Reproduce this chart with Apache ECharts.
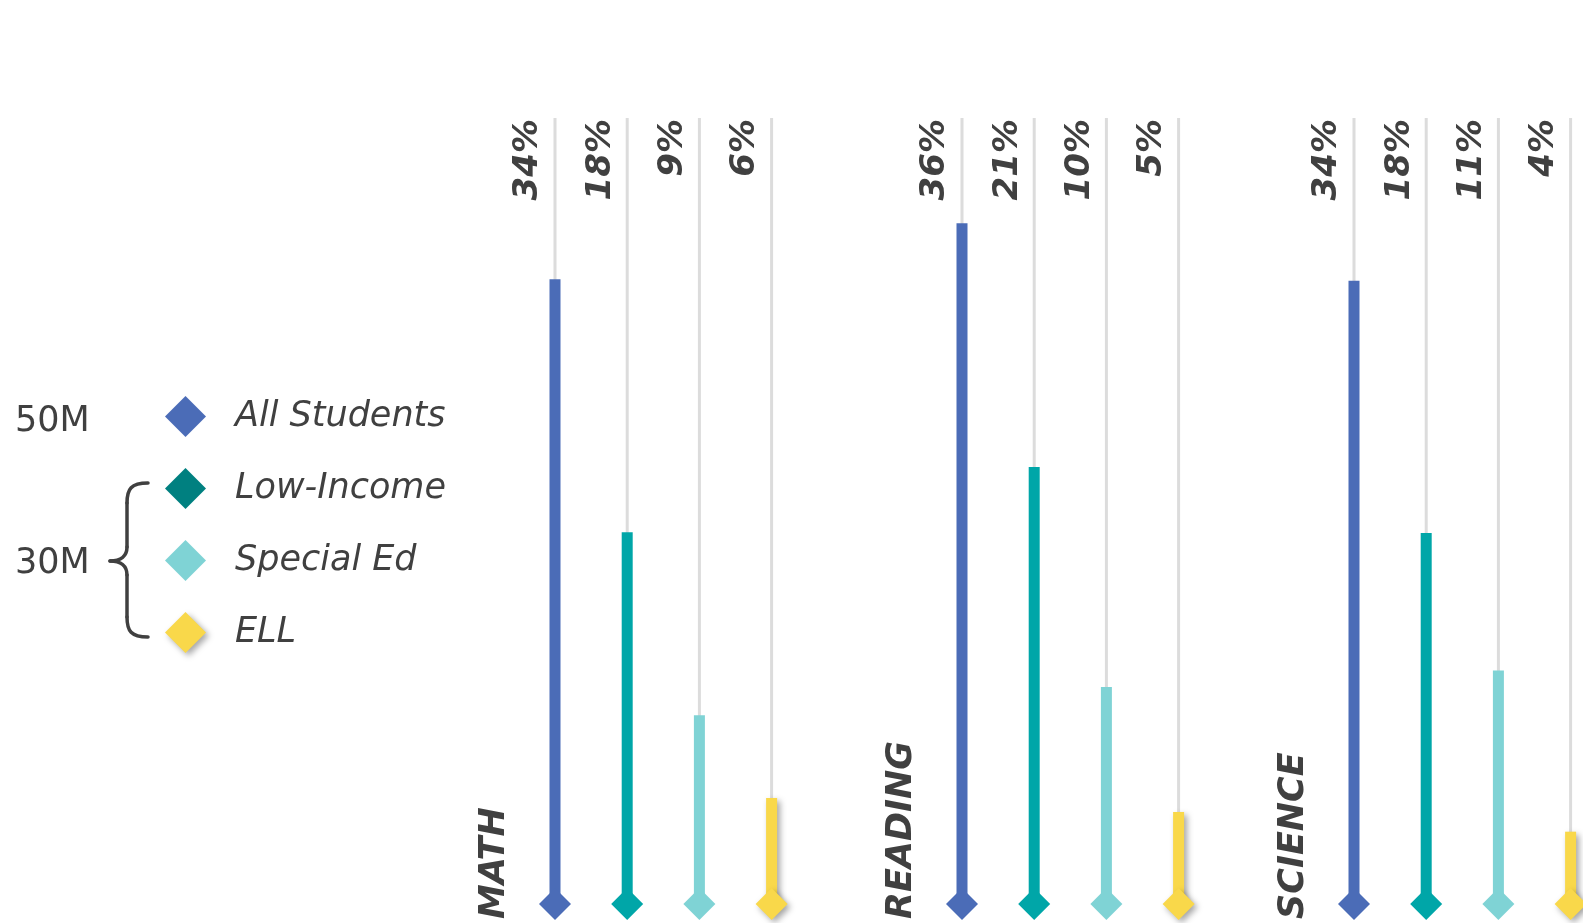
<!DOCTYPE html>
<html>
<head>
<meta charset="utf-8">
<script src="https://cdn.jsdelivr.net/npm/echarts@6/dist/echarts.min.js"></script>
<style>
html,body{margin:0;padding:0;background:#fff;overflow:hidden;}
#chart{width:1620px;height:923px;}
</style>
</head>
<body>
<div id="chart"></div>
<script>
// ---- data ----
const subjects = ['MATH', 'READING', 'SCIENCE'];
const studentGroups = ['All Students', 'Low-Income', 'Special Ed', 'ELL'];
const mathBars = [79.5, 47.3, 24.0, 13.5];
const readingBars = [86.6, 55.6, 27.6, 11.7];
const scienceBars = [79.3, 47.2, 29.7, 9.2];
const mathPct = ['34%', '18%', '9%', '6%'];
const readingPct = ['36%', '21%', '10%', '5%'];
const sciencePct = ['34%', '18%', '11%', '4%'];
const trackMax = 100;
const populationLabels = ['50M', '30M'];

// ---- styling / layout ----
const barSets = [mathBars, readingBars, scienceBars];
const pctSets = [mathPct, readingPct, sciencePct];
const barColors = ['#4B6CB7', '#00A6A8', '#7FD3D5', '#F9D84A'];
const legendColors = ['#4B6CB7', '#008080', '#7FD3D5', '#F9D84A'];
const textColor = '#404040';
const FONT = '"DejaVu Sans", Verdana, sans-serif';
const band = 72.2;
const gridLefts = [518.9, 925.9, 1317.9];
const gridTop = 118, gridBottom = 19;
const shadow = {shadowColor: 'rgba(0,0,0,0.35)', shadowBlur: 6, shadowOffsetX: 3, shadowOffsetY: 3};

const grids = [], xAxes = [], yAxes = [], series = [];
subjects.forEach((s, g) => {
  grids.push({left: gridLefts[g], width: band * studentGroups.length, top: gridTop, bottom: gridBottom,
    containLabel: false, outerBoundsMode: 'none'});
  xAxes.push({type: 'category', gridIndex: g, data: studentGroups, show: false});
  xAxes.push({type: 'category', gridIndex: g, data: studentGroups, show: false});
  yAxes.push({type: 'value', gridIndex: g, min: 0, max: trackMax, show: false});
  // gray tracks with percentage labels
  series.push({
    type: 'bar', name: 'track' + g, xAxisIndex: 2 * g + 1, yAxisIndex: g,
    barWidth: 3, silent: true, z: 1,
    data: studentGroups.map(() => trackMax),
    itemStyle: {color: '#DCDCDC'},
    label: {
      show: true, rotate: 90, position: [-25, 1], align: 'right', verticalAlign: 'middle',
      formatter: p => pctSets[g][p.dataIndex],
      fontFamily: FONT, fontWeight: 'bold', fontStyle: 'italic', fontSize: 34, color: textColor
    }
  });
  // colored bars, one series per student group (stacked so they stay centered)
  studentGroups.forEach((name, k) => {
    series.push({
      type: 'bar', name: name, xAxisIndex: 2 * g, yAxisIndex: g, stack: 'sub' + g,
      barWidth: 11, z: 2, silent: true,
      data: studentGroups.map((_, i) => i === k ? barSets[g][k] : '-'),
      itemStyle: Object.assign({color: barColors[k]}, k === 3 ? shadow : {})
    });
  });
  // diamonds at the baseline
  series.push({
    type: 'scatter', name: 'base' + g, xAxisIndex: 2 * g, yAxisIndex: g,
    symbol: 'diamond', symbolSize: 32, z: 5, clip: false, silent: true,
    data: studentGroups.map((_, k) => ({value: 0, itemStyle: Object.assign({color: barColors[k], opacity: 1}, k === 3 ? shadow : {})}))
  });
});

const braceStyle = {stroke: textColor, lineWidth: 3.5, lineCap: 'round', fill: null};
const graphics = [
  {type: 'text', x: 15, y: 422, style: {text: populationLabels[0], font: '35px ' + FONT, fill: textColor, align: 'left', verticalAlign: 'middle'}},
  {type: 'text', x: 15, y: 564, style: {text: populationLabels[1], font: '35px ' + FONT, fill: textColor, align: 'left', verticalAlign: 'middle'}},
  {type: 'bezierCurve', shape: {x1: 148, y1: 483, cpx1: 131, cpy1: 483, cpx2: 127, cpy2: 489, x2: 127, y2: 503}, style: braceStyle},
  {type: 'line', shape: {x1: 127, y1: 503, x2: 127, y2: 547}, style: braceStyle},
  {type: 'bezierCurve', shape: {x1: 127, y1: 547, cpx1: 127, cpy1: 556, cpx2: 121, cpy2: 561, x2: 110, y2: 561}, style: braceStyle},
  {type: 'bezierCurve', shape: {x1: 110, y1: 561, cpx1: 121, cpy1: 561, cpx2: 127, cpy2: 566, x2: 127, y2: 575}, style: braceStyle},
  {type: 'line', shape: {x1: 127, y1: 575, x2: 127, y2: 617}, style: braceStyle},
  {type: 'bezierCurve', shape: {x1: 127, y1: 617, cpx1: 127, cpy1: 631, cpx2: 131, cpy2: 637, x2: 148, y2: 637}, style: braceStyle}
];
subjects.forEach((s, g) => {
  graphics.push({type: 'text', x: gridLefts[g] + band / 2 - 60, y: 919, rotation: Math.PI / 2,
    style: {text: s, font: 'italic bold 35px ' + FONT, fill: textColor, align: 'left', verticalAlign: 'middle'}});
});

const chart = echarts.init(document.getElementById('chart'), null, {renderer: 'canvas'});
chart.setOption({
  animation: false,
  backgroundColor: '#fff',
  grid: grids, xAxis: xAxes, yAxis: yAxes, series: series,
  legend: {
    orient: 'vertical', left: 165, top: 396, padding: 0,
    icon: 'diamond', itemWidth: 41, itemHeight: 41, itemGap: 31, selectedMode: false,
    textStyle: {fontFamily: FONT, fontStyle: 'italic', fontSize: 35, color: textColor, padding: [0, 0, 0, 24]},
    data: studentGroups.map((n, k) => ({name: n, itemStyle: Object.assign({color: legendColors[k], borderWidth: 0}, k === 3 ? shadow : {})}))
  },
  graphic: graphics
});
</script>
</body>
</html>
